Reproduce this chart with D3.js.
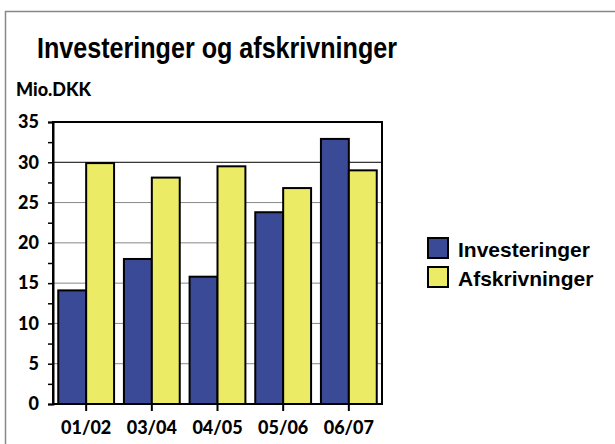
<html>
<head>
<script src="https://cdn.jsdelivr.net/npm/d3@7"></script>
<style>
  body { margin: 0; background: #fff; }
  svg text { fill: #000; }
  .title { font-family: "Liberation Sans", Arial, sans-serif; font-size: 29px; font-weight: bold; }
  .unit, .axis text { font-family: Lato, "Open Sans", sans-serif; font-weight: 900; font-size: 18px; }
  .legend text { font-family: "Liberation Sans", Arial, sans-serif; font-weight: bold; font-size: 21px; }
</style>
</head>
<body>
<svg id="chart"></svg>
<script>
// data
var categories = ["01/02", "03/04", "04/05", "05/06", "06/07"];
var seriesNames = ["Investeringer", "Afskrivninger"];
var investeringer = [14.1, 18.0, 15.8, 23.8, 32.9];
var afskrivninger = [29.9, 28.1, 29.5, 26.8, 29.0];
var yTicks = [0, 5, 10, 15, 20, 25, 30, 35];
var colors = ["#3b4a96", "#eceb65"];

var W = 615, H = 444;
var svg = d3.select("#chart").attr("width", W).attr("height", H);

// outer frame
svg.append("rect")
   .attr("x", 5.5).attr("y", 11.5)
   .attr("width", W).attr("height", H)
   .attr("fill", "none").attr("stroke", "#888").attr("stroke-width", 1.5);

svg.append("text").attr("class", "title")
   .attr("x", 37).attr("y", 58)
   .attr("textLength", 360).attr("lengthAdjust", "spacingAndGlyphs")
   .text("Investeringer og afskrivninger");

svg.append("text").attr("class", "unit")
   .attr("x", 16).attr("y", 96)
   .text("Mio.DKK");

var plotL = 53, plotR = 382, plotT = 122, plotB = 404;

var x = d3.scaleBand().domain(categories).range([plotL, plotR]).paddingInner(0.15).paddingOuter(0.08);
var xs = d3.scaleBand().domain(seriesNames).range([0, x.bandwidth()]);
var y = d3.scaleLinear().domain([0, 35]).range([plotB, plotT]);

// gridlines
svg.append("g").selectAll("line")
   .data(yTicks.filter(function (d) { return d > 0 && d < 35; }))
   .join("line")
   .attr("x1", plotL).attr("x2", plotR)
   .attr("y1", function (d) { return y(d); }).attr("y2", function (d) { return y(d); })
   .attr("stroke", function (d) { return d === 30 ? "#000" : "#888"; })
   .attr("stroke-width", 1);

// bars
var rows = categories.map(function (c, i) {
    return { cat: c, vals: [investeringer[i], afskrivninger[i]] };
});
var groups = svg.append("g").selectAll("g")
   .data(rows).join("g")
   .attr("transform", function (d) { return "translate(" + x(d.cat) + ",0)"; });
groups.selectAll("rect")
   .data(function (d) { return d.vals.map(function (v, j) { return { s: seriesNames[j], v: v, j: j }; }); })
   .join("rect")
   .attr("x", function (d) { return xs(d.s); })
   .attr("width", xs.bandwidth())
   .attr("y", function (d) { return y(d.v); })
   .attr("height", function (d) { return y(0) - y(d.v); })
   .attr("fill", function (d) { return colors[d.j]; })
   .attr("stroke", "#000").attr("stroke-width", 2);

// plot frame
svg.append("rect")
   .attr("x", plotL).attr("y", plotT)
   .attr("width", plotR - plotL).attr("height", plotB - plotT)
   .attr("fill", "none").attr("stroke", "#000").attr("stroke-width", 2);

// y axis
var yAxis = svg.append("g").attr("class", "axis")
   .attr("transform", "translate(" + plotL + ",0)")
   .call(d3.axisLeft(y).tickValues(d3.range(0, 35.1, 2.5)).tickSize(5).tickPadding(9)
        .tickFormat(function (d) { return yTicks.indexOf(d) >= 0 ? d : ""; }));
yAxis.select(".domain").attr("stroke", "#000").attr("stroke-width", 2);
yAxis.selectAll(".tick line").attr("stroke", "#000").attr("stroke-width", 1.5);

// x axis
var xAxis = svg.append("g").attr("class", "axis")
   .attr("transform", "translate(0," + plotB + ")")
   .call(d3.axisBottom(x).tickSize(7).tickPadding(10));
xAxis.select(".domain").remove();
xAxis.selectAll(".tick line").attr("stroke", "#000").attr("stroke-width", 2);

// legend
var legend = svg.append("g").attr("class", "legend")
   .attr("transform", "translate(428,238)");
var li = legend.selectAll("g").data(seriesNames).join("g")
   .attr("transform", function (d, i) { return "translate(0," + i * 29 + ")"; });
li.append("rect").attr("width", 20).attr("height", 20)
   .attr("fill", function (d, i) { return colors[i]; })
   .attr("stroke", "#000").attr("stroke-width", 2);
li.append("text").attr("x", 30).attr("y", 19).text(function (d) { return d; });
</script>
</body>
</html>
